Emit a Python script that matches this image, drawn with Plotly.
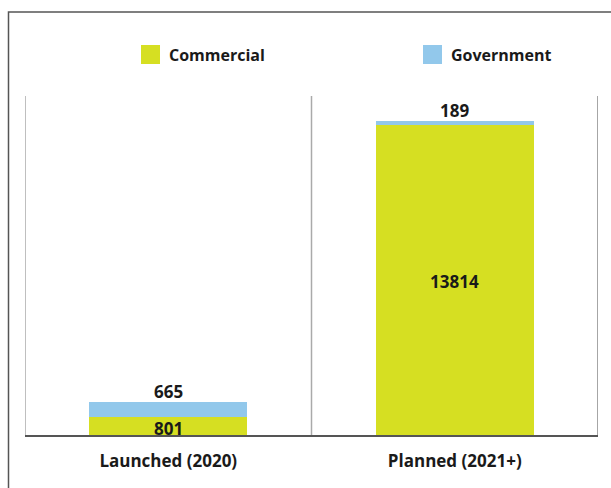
import plotly.graph_objects as go

categories = ["Launched (2020)", "Planned (2021+)"]
commercial = [801, 13814]
government = [665, 189]
series_names = ["Commercial", "Government"]
colors = ["#d6df22", "#92c8eb"]

FONT = "Open Sans"
TXT = "#1a1a1a"

fig = go.Figure()
fig.add_trace(go.Bar(x=categories, y=commercial, name=series_names[0],
                     marker=dict(color=colors[0], line=dict(width=0)), showlegend=False))
fig.add_trace(go.Bar(x=categories, y=government, name=series_names[1],
                     marker=dict(color=colors[1], line=dict(width=0)), showlegend=False))

annotations = []
for c, cv, gv in zip(categories, commercial, government):
    annotations.append(dict(x=c, y=cv / 2, xref="x", yref="y", text=str(cv),
                            showarrow=False, yanchor="middle", yshift=-2,
                            font=dict(family=FONT, size=17, color=TXT, weight="bold")))
    annotations.append(dict(x=c, y=cv + gv, xref="x", yref="y", text=str(gv),
                            showarrow=False, yanchor="bottom", yshift=-3,
                            font=dict(family=FONT, size=17, color=TXT, weight="bold")))

# manual legend
W, H = 611, 488
ml, mr, mt, mb = 25, 13, 96, 53
pw, ph = W - ml - mr, H - mt - mb
def px(x):
    return (x - ml) / pw
def py(y):
    return (H - mb - y) / ph

shapes = []
legend_pos = [(141, 167), (423, 449)]
for name, col, (sx, tx) in zip(series_names, colors, legend_pos):
    shapes.append(dict(type="rect", xref="paper", yref="paper",
                       x0=px(sx), x1=px(sx + 19), y0=py(64), y1=py(45),
                       fillcolor=col, line=dict(width=0)))
    annotations.append(dict(x=px(tx), y=py(55), xref="paper", yref="paper",
                            text=name, showarrow=False, xanchor="left", yanchor="middle",
                            font=dict(family=FONT, size=16, color=TXT, weight="bold")))

# category separators
for xv, col in [(-0.5, "#aaaaaa"), (0.5, "#aaaaaa"), (1.5, "#888888")]:
    shapes.append(dict(type="line", xref="x", yref="paper", x0=xv, x1=xv, y0=0, y1=1,
                       line=dict(color=col, width=1.5)))
# outer border
shapes.append(dict(type="rect", xref="paper", yref="paper",
                   x0=px(8.5), x1=px(700), y0=py(600), y1=py(12),
                   line=dict(color="#555555", width=1.5), fillcolor="rgba(0,0,0,0)"))

fig.update_layout(
    barmode="stack",
    bargap=0.45,
    width=W, height=H,
    margin=dict(l=ml, r=mr, t=mt, b=mb),
    paper_bgcolor="white", plot_bgcolor="white",
    showlegend=False,
    annotations=annotations,
    shapes=shapes,
    xaxis=dict(type="category", range=[-0.5, 1.5], showgrid=False, zeroline=False,
               showline=True, linecolor="#555555", linewidth=1.5,
               ticks="", ticklabelstandoff=10,
               tickfont=dict(family=FONT, size=17, color=TXT, weight="bold")),
    yaxis=dict(range=[0, 15100], showgrid=False, zeroline=False, showline=False,
               showticklabels=False, ticks=""),
)

fig.write_html("out.html")
